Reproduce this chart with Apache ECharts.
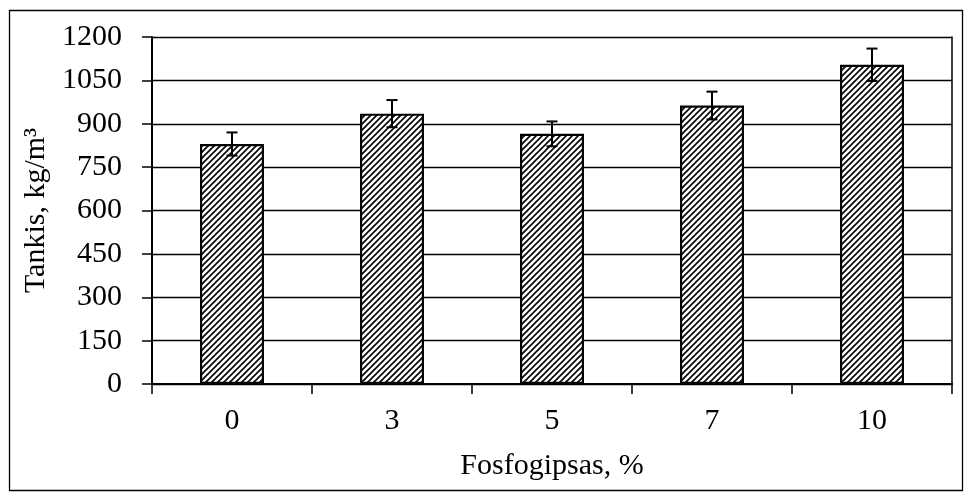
<!DOCTYPE html>
<html>
<head>
<meta charset="utf-8">
<script src="https://cdn.jsdelivr.net/npm/echarts@6/dist/echarts.min.js"></script>
<style>
  html, body { margin: 0; padding: 0; background: #fff; }
  #chart { width: 968px; height: 495px; }
</style>
</head>
<body>
<div id="chart"></div>
<script>
// Phosphogypsum content (%) and resulting density
const categories = ['0', '3', '5', '7', '10'];
const density = [830, 935, 865, 963, 1104];
const densityError = [40, 47, 43, 48, 56];
const yTicks = { min: 0, max: 1200, interval: 150 };

const FONT = 'Liberation Serif, Times New Roman, serif';

// Upward diagonal hatch used to fill the bars
function makeHatch() {
  const c = document.createElement('canvas');
  const s = 6;
  c.width = s; c.height = s;
  const ctx = c.getContext('2d');
  ctx.fillStyle = '#fff';
  ctx.fillRect(0, 0, s, s);
  ctx.strokeStyle = '#000';
  ctx.lineWidth = 1.6;
  ctx.beginPath();
  ctx.moveTo(-1, s + 1); ctx.lineTo(s + 1, -1);
  ctx.moveTo(-1, 1); ctx.lineTo(1, -1);
  ctx.moveTo(s - 1, s + 1); ctx.lineTo(s + 1, s - 1);
  ctx.stroke();
  return c;
}

const chart = echarts.init(document.getElementById('chart'), null, { renderer: 'canvas' });

const errorData = density.map((v, i) => [i, v - densityError[i], v + densityError[i]]);

chart.setOption({
  animation: false,
  backgroundColor: '#fff',
  textStyle: { fontFamily: FONT, color: '#000' },
  grid: { left: 152, right: 16, top: 37, bottom: 111, containLabel: false },
  graphic: [{
    type: 'rect',
    shape: { x: 9.5, y: 10.5, width: 953, height: 480 },
    style: { fill: 'none', stroke: '#000', lineWidth: 1.3 },
    silent: true
  }],
  xAxis: {
    type: 'category',
    data: categories,
    name: 'Fosfogipsas, %',
    nameLocation: 'middle',
    nameGap: 67,
    nameTextStyle: { fontFamily: FONT, fontSize: 30, color: '#000' },
    axisLine: { lineStyle: { color: '#000', width: 2 } },
    axisTick: { show: true, alignWithLabel: false, length: 10, lineStyle: { color: '#000', width: 1.5 } },
    axisLabel: { fontFamily: FONT, fontSize: 30, color: '#000', margin: 22 },
    splitLine: { show: false }
  },
  yAxis: [{
    type: 'value',
    min: yTicks.min,
    max: yTicks.max,
    interval: yTicks.interval,
    name: 'Tankis, kg/m³',
    nameLocation: 'middle',
    nameGap: 95,
    nameTextStyle: { fontFamily: FONT, fontSize: 30, color: '#000' },
    axisLine: { show: true, lineStyle: { color: '#000', width: 2 } },
    axisTick: { show: true, length: 10, lineStyle: { color: '#000', width: 1.5 } },
    axisLabel: { fontFamily: FONT, fontSize: 30, color: '#000', margin: 30, formatter: (v) => String(v) },
    splitLine: { show: true, lineStyle: { color: '#000', width: 1.3 } }
  }, {
    type: 'value',
    position: 'right',
    min: yTicks.min,
    max: yTicks.max,
    interval: yTicks.interval,
    axisLine: { show: true, lineStyle: { color: '#000', width: 1.5 } },
    axisTick: { show: false },
    axisLabel: { show: false },
    splitLine: { show: false }
  }],
  series: [{
    type: 'bar',
    data: density,
    barWidth: '40%',
    itemStyle: {
      color: { image: makeHatch(), repeat: 'repeat' },
      borderColor: '#000',
      borderWidth: 2.2
    },
    z: 2
  }, {
    type: 'custom',
    data: errorData,
    z: 5,
    renderItem: function (params, api) {
      const x = api.value(0);
      const lo = api.coord([x, api.value(1)]);
      const hi = api.coord([x, api.value(2)]);
      const cap = 5.5;
      const style = { stroke: '#000', lineWidth: 2, fill: null };
      return {
        type: 'group',
        children: [
          { type: 'line', shape: { x1: lo[0], y1: lo[1], x2: hi[0], y2: hi[1] }, style: style },
          { type: 'line', shape: { x1: hi[0] - cap, y1: hi[1], x2: hi[0] + cap, y2: hi[1] }, style: style },
          { type: 'line', shape: { x1: lo[0] - cap, y1: lo[1], x2: lo[0] + cap, y2: lo[1] }, style: style }
        ]
      };
    }
  }]
});
</script>
</body>
</html>
